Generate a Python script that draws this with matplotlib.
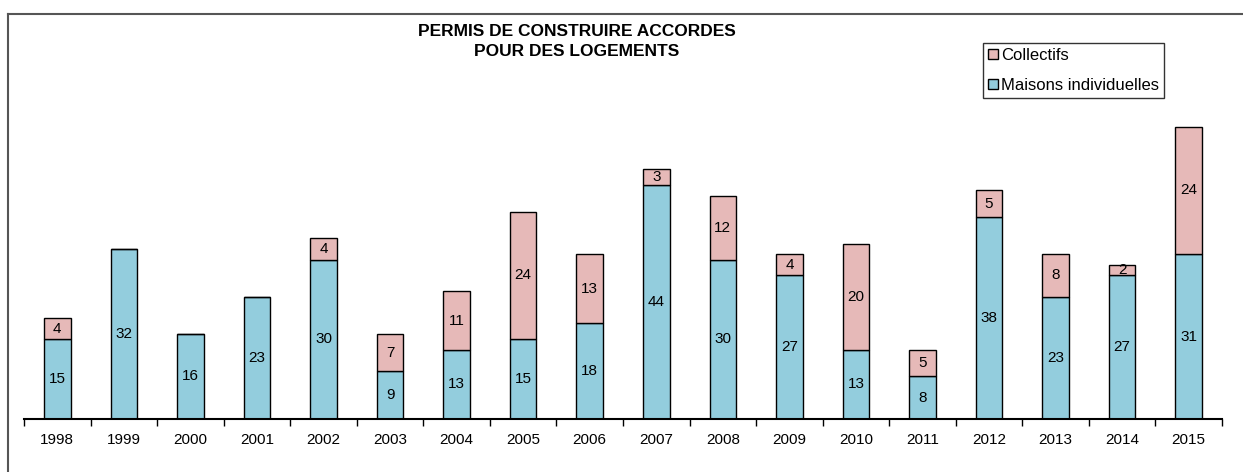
import matplotlib.pyplot as plt
import numpy as np

plt.rcParams['font.family'] = ['Liberation Sans', 'DejaVu Sans']

annees = [str(a) for a in range(1998, 2016)]
maisons = [15, 32, 16, 23, 30, 9, 13, 15, 18, 44, 30, 27, 13, 8, 38, 23, 27, 31]
collectifs = [4, 0, 0, 0, 4, 7, 11, 24, 13, 3, 12, 4, 20, 5, 5, 8, 2, 24]

bleu = '#93CDDD'
rose = '#E6B9B8'

W, H = 1243, 472
fig = plt.figure(figsize=(W / 100, H / 100), dpi=100)
ax = fig.add_axes([24 / W, (H - 419) / H, (1222 - 24) / W, (419 - 100) / H])

x = np.arange(len(annees))
b1 = ax.bar(x, maisons, width=0.4, color=bleu, edgecolor='black', lw=1,
            label='Maisons individuelles')
b2 = ax.bar(x, collectifs, width=0.4, bottom=maisons, color=rose,
            edgecolor='black', lw=1, label='Collectifs')

for i in range(len(x)):
    ax.text(x[i], maisons[i] / 2, str(maisons[i]), ha='center', va='center',
            fontsize=11)
    if collectifs[i] > 0:
        ax.text(x[i], maisons[i] + collectifs[i] / 2, str(collectifs[i]),
                ha='center', va='center', fontsize=11)

ax.set_xlim(-0.5, len(x) - 0.5)
ax.set_ylim(0, 60)
for s in ['left', 'right', 'top']:
    ax.spines[s].set_visible(False)
ax.spines['bottom'].set_linewidth(1.5)
ax.set_yticks([])
ax.set_xticks(x)
ax.set_xticklabels(annees, fontsize=11)
ax.tick_params(axis='x', which='major', length=0, pad=10)
ax.set_xticks(np.arange(-0.5, len(x)), minor=True)
ax.tick_params(axis='x', which='minor', length=5, width=1)

leg = fig.legend(handles=[b2, b1], loc='upper left',
                 bbox_to_anchor=(983 / W, 1 - 43 / H), fontsize=12,
                 frameon=True, fancybox=False, edgecolor='black',
                 handlelength=0.6, handleheight=0.6, handletextpad=0.2,
                 borderpad=0.3, labelspacing=0.9, borderaxespad=0)
leg.get_frame().set_linewidth(1)

fig.text(577 / W, 1 - 31 / H, 'PERMIS DE CONSTRUIRE ACCORDES', ha='center',
         va='center', fontsize=12.5, fontweight='bold')
fig.text(577 / W, 1 - 51 / H, 'POUR DES LOGEMENTS', ha='center',
         va='center', fontsize=12.5, fontweight='bold')

# cadre du graphique (bords gauche et haut)
fig.add_artist(plt.Line2D([8 / W, 8 / W], [0, 1 - 14 / H], color='#555555', lw=1.5))
fig.add_artist(plt.Line2D([8 / W, 1], [1 - 14 / H, 1 - 14 / H], color='#555555', lw=1.5))

fig.savefig('out.png', dpi=100)
